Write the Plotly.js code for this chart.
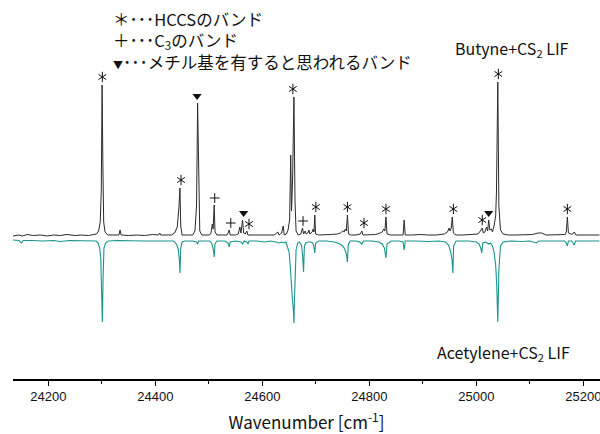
<!DOCTYPE html>
<html>
<head>
<meta charset="utf-8">
<script src="https://cdn.plot.ly/plotly-3.0.1.min.js"></script>
<style>html,body{margin:0;padding:0;background:#fff}#chart{width:600px;height:434px}</style>
</head>
<body>
<div id="chart"></div>
<script>
// ---- data (wavenumber [cm-1], intensity arb. units) ----
const butyne = [
[24134,0],[24145,1],[24152,0],[24160,1.5],[24172,0.5],[24185,1],[24198,0],[24210,1],[24222,0.5],[24235,1.5],[24250,0.5],[24262,1],[24275,0.5],[24285,1],
[24290,2],[24294,5],[24297,14],[24299,45],[24300.5,151],[24302,70],[24303.5,14],[24306,4],[24311,1],
[24322,1],[24332,1],[24334,6],[24336,1],[24350,0.5],[24365,1],[24380,0.5],[24395,1.5],[24406,1],[24408,3],[24410,1],[24420,1],
[24430,1],[24436,3],[24441,9],[24444,28],[24446,48],[24447.5,10],[24450,1],[24460,1],
[24470,1],[24474,5],[24477,30],[24479,133],[24481,35],[24483,5],[24487,1],[24495,1],
[24501,1],[24504,3],[24506.5,12],[24508,7],[24510,31],[24511.5,4],[24515,1],[24525,1],
[24534,1],[24536,3],[24538,6],[24540,1],[24550,1],
[24555,2],[24558,9],[24560,3],[24563,16],[24565,3],[24568,2],[24571,5],[24573,1],[24585,1],
[24600,1],[24612,1.5],[24622,1],[24629,4],[24631,1],[24636,3],[24639,10],[24641,1],
[24645,2],[24648,6],[24651,16],[24653,81],[24654.5,25],[24656.5,56],[24659,139],[24661,35],[24663,5],[24667,1],
[24672,2],[24675,8],[24677,2],[24680,5],[24682,2],[24685,3],[24687,6],[24689,2],[24693,4],[24695,7],[24696.5,4],[24698,21],[24699.5,2],[24705,1],
[24715,1],[24728,1.5],[24740,2],[24746,3],[24750,5],[24753,4],[24755,7],[24757,5],[24759,21],[24761,2],[24766,1],
[24775,1],[24783,2],[24786,5],[24788,1],[24800,1],[24812,1.5],[24820,3],[24824,4],[24827,7],[24829,5],[24831,19],[24833,2],[24840,1],
[24852,1],[24863,1],[24865,16],[24867,1],[24880,1],[24895,1.5],[24910,1],[24925,1],[24940,2],[24946,4],[24949,8],[24951,5],[24953,8],[24955,19],[24957,3],[24962,1],
[24975,1],[24990,1.5],[25003,2],[25006,4],[25009,7],[25011,8],[25013,3],[25016,4],[25019,9],[25021,5],[25023,16],[25025,6],[25028,7],[25030,4],[25033,10],[25036,20],[25037.5,44],[25040,154],[25042,30],[25045,6],[25050,2],
[25060,1],[25075,1],[25090,1],[25105,1.5],[25115,3],[25122,3],[25130,1],[25145,1],[25158,1],[25166,1.5],[25168,4],[25170,19],[25172,3],[25176,2],[25180,2],[25183,4],[25186,1],[25195,1],[25210,1],[25230,1]
];

const acetylene = [
[24134,0],[24145,0.5],[24150,3],[24153,0.5],[24170,0.5],[24190,1],[24210,0.5],[24222,1.5],[24240,0.5],[24260,1],[24280,1],
[24289,1],[24293,3],[24296,8],[24298,18],[24299.5,40],[24301,82],[24302.5,35],[24304,8],[24307,3],[24312,1],
[24330,0.5],[24350,1],[24380,1],[24410,1],[24425,1],
[24434,1],[24438,3],[24441,6],[24443,10],[24445,20],[24446,33],[24447.5,8],[24450,2],[24455,1],
[24470,1],[24477,2],[24479,4],[24481,1],[24495,1],
[24502,1],[24505,3],[24507,6],[24509,12],[24510,17],[24511.5,4],[24515,1],[24530,1],[24536,3],[24538,7],[24540,2],[24550,1],
[24560,2],[24563,4],[24566,1],[24571,2],[24573,4],[24575,1],[24590,1],[24605,2],[24615,1],[24625,2],[24632,3],[24636,2],[24640,3],
[24644,2],[24647,6],[24650,12],[24652,25],[24653.5,40],[24655,45],[24656.5,62],[24658,70],[24659,83],[24660,60],[24661.5,25],[24663,10],[24666,3],[24669,2],
[24673,5],[24675,14],[24677,32],[24678.5,6],[24681,3],[24685,2],[24690,2],[24694,3],[24696,6],[24698,13],[24699.5,3],[24705,1],
[24720,1],[24735,2],[24745,4],[24750,6],[24754,9],[24757,14],[24759,22],[24760.5,5],[24764,1],
[24775,1],[24782,2],[24786,4],[24789,1],[24805,1],[24818,2],[24824,4],[24828,8],[24831,18],[24833,4],[24837,2],[24841,1],
[24855,1],[24863,2],[24865,10],[24867,1],[24885,1],[24910,1.5],[24930,1],[24942,2],[24948,5],[24952,12],[24954.5,20],[24956,33],[24957.5,6],[24962,1],
[24985,1],[25000,2],[25005,4],[25008,8],[25010,13],[25012,3],[25017,2],[25023,4],[25026,3],[25030,6],[25033,12],[25036,25],[25038,45],[25040,82],[25042,30],[25045,6],[25050,2],
[25065,1],[25085,1.5],[25100,1],[25112,3],[25117,1],[25130,1],[25150,1],[25165,1],[25168,3],[25170,6],[25172,1],[25178,1],[25183,5],[25185,1],[25200,1],[25230,1]
];

// band markers: wavenumber and height of the marked peak
const starX = [24301,24448,24575,24657,24700,24759,24790,24831,24957,25011,25041,25170];
const starH = [151,48,4,139,21,21,5,19,19,8,154,19];
const plusX = [24511,24541,24676];
const plusH = [31,6,8];
const triX  = [24478,24565,25023];
const triH  = [133,16,16];

const legendLines = [
  '＊･･･HCCSのバンド',
  '＋･･･C<sub>3</sub>のバンド',
  '<span style="font-size:10px">▼</span>･･･メチル基を有すると思われるバンド'
];
const labelTop = 'Butyne+CS<sub>2</sub> LIF';
const labelBottom = 'Acetylene+CS<sub>2</sub> LIF';
const xTitle = 'Wavenumber [cm<sup>-1</sup>]';

// ---- layout helpers ----
const M = {l:13, r:0, t:0, b:55};
const PW = 600 - M.l - M.r, PH = 434 - M.t - M.b;
const px = x => (x - M.l) / PW;
const py = y => 1 - (y - M.t) / PH;
const GAP = 4;        // vertical separation between the two spectra (1 unit = 1 px)
const LIFT = 8;       // marker lift above the marked peak
const JP = '"Noto Sans CJK JP", "Noto Sans", sans-serif';
const MK = '#111';

const lift = (hs, d) => hs.map(h => h + d);
const markTrace = (xs, ys, sym, size, w) => ({x:xs, y:ys, type:'scatter', mode:'markers', hoverinfo:'skip',
  marker:{symbol:sym, size:size, color:MK, line:{color:MK, width:w}}});

const traces = [
  {x: butyne.map(p=>p[0]), y: butyne.map(p=>p[1]), type:'scatter', mode:'lines',
   line:{color:'#2b2b2b', width:1}, hoverinfo:'skip'},
  {x: acetylene.map(p=>p[0]), y: acetylene.map(p=>-GAP - p[1]), type:'scatter', mode:'lines',
   line:{color:'#1a948d', width:1.1}, hoverinfo:'skip'},
  markTrace(starX, lift(starH, LIFT), 'y-up-open', 6.5, 1),
  markTrace(starX, lift(starH, LIFT), 'y-down-open', 6.5, 1),
  markTrace(plusX, lift(plusH, LIFT - 1), 'cross-thin-open', 7, 1),
  markTrace(triX, lift(triH, LIFT - 1), 'triangle-down', 8, 0)
];

const ann = [];
legendLines.forEach((t,i)=>ann.push({x:px(111), y:py(19 + i*21.5), xref:'paper', yref:'paper', text:t,
  showarrow:false, xanchor:'left', yanchor:'middle', font:{family:JP, size:16.5, color:'#111'}}));
ann.push({x:px(571), y:py(49), xref:'paper', yref:'paper', text:labelTop, showarrow:false,
  xanchor:'right', yanchor:'middle', font:{family:JP, size:16, color:'#111'}});
ann.push({x:px(572), y:py(352), xref:'paper', yref:'paper', text:labelBottom, showarrow:false,
  xanchor:'right', yanchor:'middle', font:{family:JP, size:16, color:'#111'}});

const layout = {
  width:600, height:434, margin:M, paper_bgcolor:'#fff', plot_bgcolor:'#fff', showlegend:false,
  xaxis:{range:[24134,25231], tick0:24200, dtick:200, tickformat:'d', ticks:'outside', ticklen:5, tickwidth:1, tickcolor:'#000',
    ticklabeloverflow:'allow',
    showline:true, linecolor:'#000', linewidth:1.5, showgrid:false, zeroline:false,
    minor:{dtick:100, tick0:24100, ticks:'outside', ticklen:3, tickwidth:1, tickcolor:'#000', showgrid:false},
    tickfont:{family:'"Liberation Sans", Arial, sans-serif', size:13, color:'#111'},
    title:{text:xTitle, font:{family:JP, size:17, color:'#111'}, standoff:16}},
  yaxis:{range:[236-PH, 236], visible:false, fixedrange:true},
  annotations: ann
};
Plotly.newPlot('chart', traces, layout, {staticPlot:true, displayModeBar:false});
</script>
</body>
</html>
